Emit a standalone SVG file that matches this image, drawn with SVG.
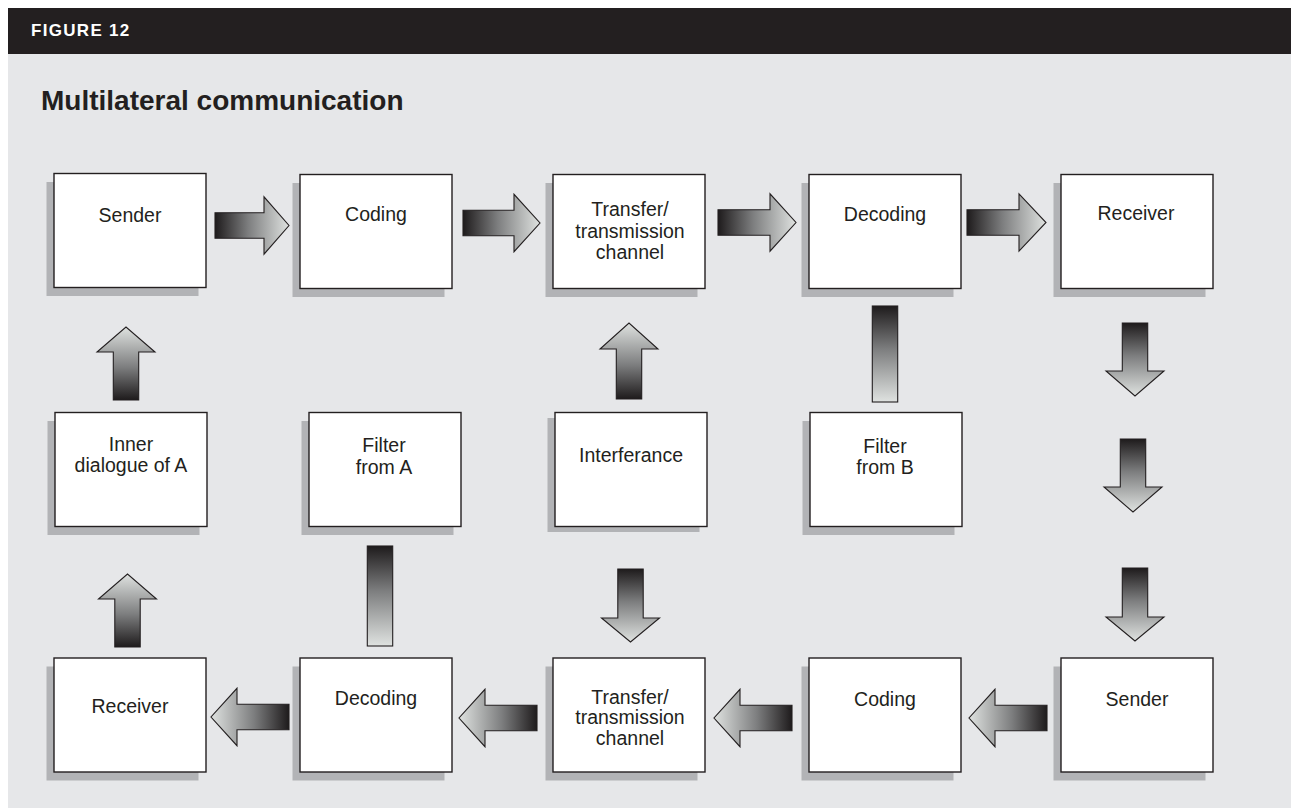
<svg xmlns="http://www.w3.org/2000/svg" width="1291" height="808" viewBox="0 0 1291 808">
<defs>
<style>
.bg{fill:#e6e7e9}
.hdr{fill:#231f20}
.box{fill:#ffffff;stroke:#231f20;stroke-width:1.4}
.sh{fill:#b2b3b6}
.lbl{font-family:"Liberation Sans",Arial,sans-serif;font-size:19.5px;fill:#231f20;text-anchor:middle}
.fig{font-family:"Liberation Sans",Arial,sans-serif;font-size:17px;font-weight:bold;fill:#ffffff;letter-spacing:1.3px}
.ttl{font-family:"Liberation Sans",Arial,sans-serif;font-size:28px;font-weight:bold;fill:#231f20}
.ar{stroke:#231f20;stroke-width:1.1;stroke-linejoin:miter}
.r{fill:url(#gR)}
.l{fill:url(#gL)}
.u{fill:url(#gU)}
.d{fill:url(#gD)}
</style>
<linearGradient id="gR" x1="0" y1="0" x2="1" y2="0"><stop offset="0" stop-color="#1e1b1c"/><stop offset="0.45" stop-color="#7d7e7f"/><stop offset="1" stop-color="#dfe2e0"/></linearGradient>
<linearGradient id="gL" x1="1" y1="0" x2="0" y2="0"><stop offset="0" stop-color="#1e1b1c"/><stop offset="0.45" stop-color="#7d7e7f"/><stop offset="1" stop-color="#dfe2e0"/></linearGradient>
<linearGradient id="gU" x1="0" y1="1" x2="0" y2="0"><stop offset="0" stop-color="#1e1b1c"/><stop offset="0.45" stop-color="#7d7e7f"/><stop offset="1" stop-color="#dfe2e0"/></linearGradient>
<linearGradient id="gD" x1="0" y1="0" x2="0" y2="1"><stop offset="0" stop-color="#1e1b1c"/><stop offset="0.45" stop-color="#7d7e7f"/><stop offset="1" stop-color="#dfe2e0"/></linearGradient>
</defs>
<rect x="0" y="0" width="1291" height="808" fill="#ffffff"/>
<rect class="bg" x="8" y="54" width="1283" height="754"/>
<rect class="hdr" x="8" y="8" width="1283" height="46"/>
<text class="fig" x="31" y="36">FIGURE 12</text>
<text class="ttl" x="41" y="110">Multilateral communication</text>

<g id="connectors">
<path class="ar r" d="M215,212.7 H264 V196.8 L289,225.5 L264,254.2 V238.3 H215 Z"/>
<path class="ar r" d="M463,210.2 H514 V194.3 L540,223 L514,251.7 V235.8 H463 Z"/>
<path class="ar r" d="M718,209.7 H770 V193.8 L796,222.5 L770,251.2 V235.3 H718 Z"/>
<path class="ar r" d="M967,209.7 H1019 V193.8 L1046,222.5 L1019,251.2 V235.3 H967 Z"/>

<path class="ar l" d="M289,704.2 H237 V688.3 L211,717 L237,745.7 V729.8 H289 Z"/>
<path class="ar l" d="M537,705.2 H485 V689.3 L459,718 L485,746.7 V730.8 H537 Z"/>
<path class="ar l" d="M792,705.2 H740 V689.3 L714,718 L740,746.7 V730.8 H792 Z"/>
<path class="ar l" d="M1047,705.2 H995 V689.3 L969,718 L995,746.7 V730.8 H1047 Z"/>

<path class="ar u" d="M113.3,400 V352 H97 L126,327 L155,352 H138.7 V400 Z"/>
<path class="ar u" d="M114.8,647 V599 H98.5 L127.5,574 L156.5,599 H140.2 V647 Z"/>
<path class="ar u" d="M616.3,399 V349 H600 L629,323 L658,349 H641.7 V399 Z"/>

<path class="ar d" d="M617.8,569 V618 H601.5 L630.5,642 L659.5,618 H643.2 V569 Z"/>
<path class="ar d" d="M1122.3,323 V371 H1106 L1135,396 L1164,371 H1147.7 V323 Z"/>
<path class="ar d" d="M1120.3,439 V487 H1104 L1133,512 L1162,487 H1145.7 V439 Z"/>
<path class="ar d" d="M1122.3,568 V617 H1106 L1135,641 L1164,617 H1147.7 V568 Z"/>

<rect class="ar d" x="367.3" y="546" width="25.4" height="100"/>
<rect class="ar d" x="872.3" y="306" width="25.4" height="96"/>
</g>

<g id="n-sender-a">
<rect class="sh" x="46.5" y="182" width="152" height="114"/>
<rect class="box" x="54" y="173.5" width="152" height="114"/>
<text class="lbl" x="130" y="222">Sender</text>
</g>
<g id="n-coding-a">
<rect class="sh" x="292.5" y="183" width="152" height="114"/>
<rect class="box" x="300" y="174.5" width="152" height="114"/>
<text class="lbl" x="376" y="221">Coding</text>
</g>
<g id="n-transfer-a">
<rect class="sh" x="545.5" y="183" width="152" height="114"/>
<rect class="box" x="553" y="174.5" width="152" height="114"/>
<text class="lbl" x="630" y="216">Transfer/</text>
<text class="lbl" x="630" y="237.5">transmission</text>
<text class="lbl" x="630" y="259">channel</text>
</g>
<g id="n-decoding-b">
<rect class="sh" x="801.5" y="183" width="152" height="114"/>
<rect class="box" x="809" y="174.5" width="152" height="114"/>
<text class="lbl" x="885" y="221">Decoding</text>
</g>
<g id="n-receiver-b">
<rect class="sh" x="1053.5" y="183" width="152" height="114"/>
<rect class="box" x="1061" y="174.5" width="152" height="114"/>
<text class="lbl" x="1136" y="220">Receiver</text>
</g>

<g id="n-inner-a">
<rect class="sh" x="47.5" y="421" width="152" height="114"/>
<rect class="box" x="55" y="412.5" width="152" height="114"/>
<text class="lbl" x="131" y="451">Inner</text>
<text class="lbl" x="131" y="472">dialogue of A</text>
</g>
<g id="n-filter-a">
<rect class="sh" x="301.5" y="421" width="152" height="114"/>
<rect class="box" x="309" y="412.5" width="152" height="114"/>
<text class="lbl" x="384" y="452">Filter</text>
<text class="lbl" x="384" y="474">from A</text>
</g>
<g id="n-interference">
<rect class="sh" x="547.5" y="418" width="152" height="114"/>
<rect class="box" x="555" y="412.5" width="152" height="114"/>
<text class="lbl" x="631" y="461.5">Interferance</text>
</g>
<g id="n-filter-b">
<rect class="sh" x="802.5" y="421" width="152" height="114"/>
<rect class="box" x="810" y="412.5" width="152" height="114"/>
<text class="lbl" x="885" y="453">Filter</text>
<text class="lbl" x="885" y="474">from B</text>
</g>

<g id="n-receiver-a">
<rect class="sh" x="46.5" y="666.5" width="152" height="114"/>
<rect class="box" x="54" y="658" width="152" height="114"/>
<text class="lbl" x="130" y="713">Receiver</text>
</g>
<g id="n-decoding-a">
<rect class="sh" x="292.5" y="666.5" width="152" height="114"/>
<rect class="box" x="300" y="658" width="152" height="114"/>
<text class="lbl" x="376" y="705">Decoding</text>
</g>
<g id="n-transfer-b">
<rect class="sh" x="545.5" y="666.5" width="152" height="114"/>
<rect class="box" x="553" y="658" width="152" height="114"/>
<text class="lbl" x="630" y="703.5">Transfer/</text>
<text class="lbl" x="630" y="724">transmission</text>
<text class="lbl" x="630" y="744.5">channel</text>
</g>
<g id="n-coding-b">
<rect class="sh" x="801.5" y="666.5" width="152" height="114"/>
<rect class="box" x="809" y="658" width="152" height="114"/>
<text class="lbl" x="885" y="706">Coding</text>
</g>
<g id="n-sender-b">
<rect class="sh" x="1053.5" y="666.5" width="152" height="114"/>
<rect class="box" x="1061" y="658" width="152" height="114"/>
<text class="lbl" x="1137" y="706">Sender</text>
</g>
</svg>
